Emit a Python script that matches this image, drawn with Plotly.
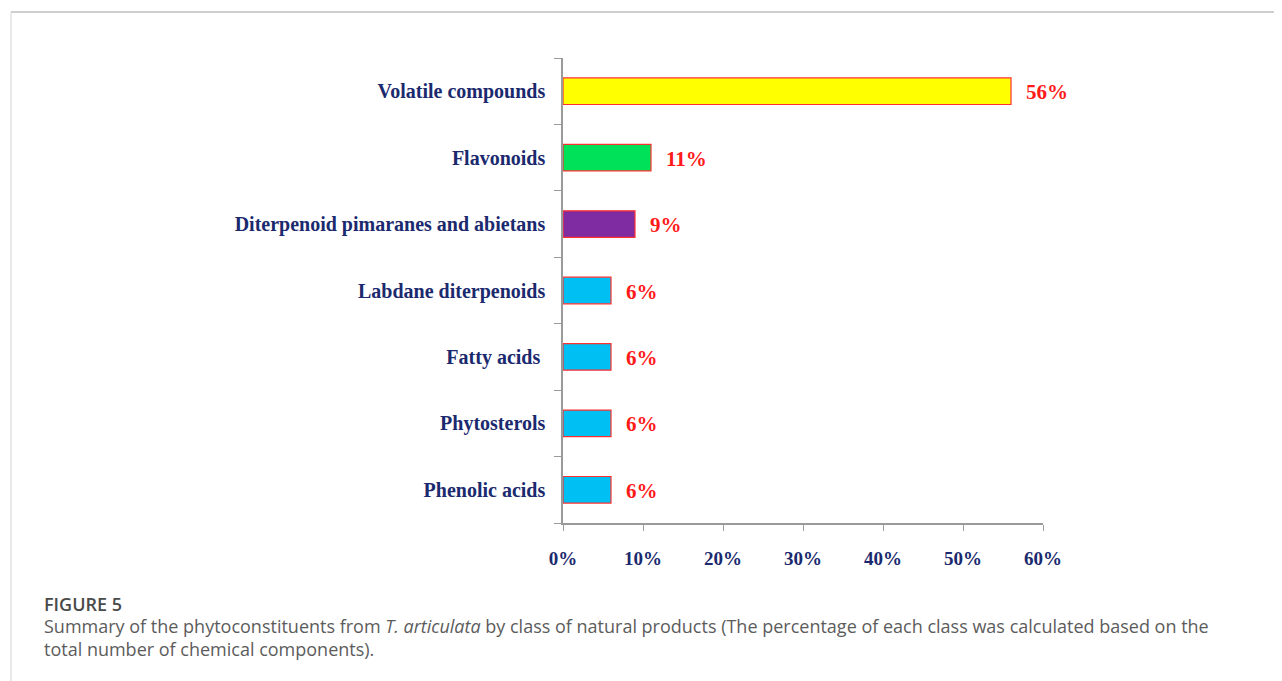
import plotly.graph_objects as go

categories = ["Volatile compounds", "Flavonoids", "Diterpenoid pimaranes and abietans",
              "Labdane diterpenoids", "Fatty acids ", "Phytosterols", "Phenolic acids"]
values = [56, 11, 9, 6, 6, 6, 6]
colors = ["#FFFF00", "#00E15A", "#7F2BA2", "#00BFF3", "#00BFF3", "#00BFF3", "#00BFF3"]
x_ticks = [0, 10, 20, 30, 40, 50, 60]
x_tick_labels = ["0%", "10%", "20%", "30%", "40%", "50%", "60%"]

# page geometry (the html body adds an 8px offset)
OFF = 8
W, H = 1282 - OFF, 681 - OFF
L, R, T, B = 563, 1043, 58, 523          # plot area in page pixels
pw, ph = R - L, B - T

def px(x):
    return (x - L) / pw

def py(y):
    return (B - y) / ph

serif = "Liberation Serif"
navy = "#1B2A6E"

fig = go.Figure()
fig.add_trace(go.Bar(
    x=values, y=categories, orientation="h",
    marker=dict(color=colors, line=dict(color="#FF3030", width=1.2)),
    hoverinfo="skip",
))

annotations = []
for c, v in zip(categories, values):
    annotations.append(dict(x=v, y=c, xref="x", yref="y", text=f"{v}%",
                            showarrow=False, xanchor="left", xshift=13, yshift=-1,
                            font=dict(family=serif, size=21, color="#FF1A1A", weight="bold")))

cap_font = dict(family="Open Sans", size=18, color="#5c5c5c")
annotations += [
    dict(x=px(42), y=py(604), xref="paper", yref="paper", text="FIGURE 5",
         showarrow=False, xanchor="left", yanchor="middle",
         font=dict(family="Open Sans", size=18, color="#4a4a4a", weight=600)),
    dict(x=px(42), y=py(626), xref="paper", yref="paper",
         text="Summary of the phytoconstituents from <i>T. articulata</i> by class of natural products (The percentage of each class was calculated based on the",
         showarrow=False, xanchor="left", yanchor="middle", font=cap_font),
    dict(x=px(42), y=py(649), xref="paper", yref="paper",
         text="total number of chemical components).",
         showarrow=False, xanchor="left", yanchor="middle", font=cap_font),
]

shapes = [
    dict(type="line", xref="paper", yref="paper", x0=px(11), x1=px(1290), y0=py(12), y1=py(12),
         line=dict(color="#cfcfcf", width=2)),
    dict(type="line", xref="paper", yref="paper", x0=px(11), x1=px(11), y0=py(12), y1=py(690),
         line=dict(color="#d5d5d5", width=1)),
]

fig.update_layout(
    width=W, height=H,
    margin=dict(l=L - OFF, r=W - (R - OFF), t=T - OFF, b=H - (B - OFF)),
    paper_bgcolor="white", plot_bgcolor="white",
    showlegend=False,
    bargap=0.6,
    annotations=annotations,
    shapes=shapes,
    xaxis=dict(range=[0, 60], tickvals=x_ticks, ticktext=x_tick_labels,
               showgrid=False, zeroline=False, showline=True, linecolor="#9a9a9a", linewidth=1.5,
               ticks="outside", ticklen=6, tickcolor="#9a9a9a", ticklabelstandoff=11,
               tickfont=dict(family=serif, size=19, color=navy, weight="bold"), fixedrange=True),
    yaxis=dict(categoryorder="array", categoryarray=categories[::-1], autorange=True,
               showgrid=False, zeroline=False, showline=True, linecolor="#9a9a9a", linewidth=1.5,
               ticks="outside", ticklen=7, tickcolor="#9a9a9a", tickson="boundaries",
               ticklabelstandoff=12,
               tickfont=dict(family=serif, size=20, color=navy, weight="bold"), fixedrange=True),
)

fig.write_html("out.html", config={"displayModeBar": False})
